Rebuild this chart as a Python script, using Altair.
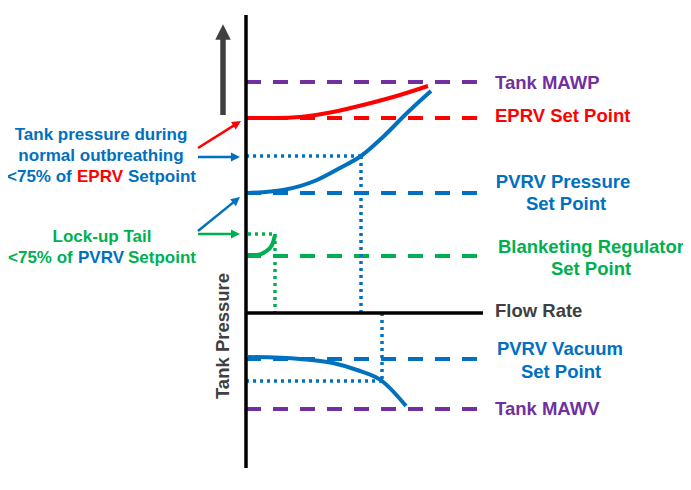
import math
import altair as alt
import pandas as pd

# Diagram units: flow = horizontal distance from the pressure axis, pressure = height above the flow-rate line
PURPLE, RED, BLUE, GREEN, GRAY = "#7030A0", "#FF0000", "#0070C0", "#00B050", "#404040"

setpoint_values = [231, 195, 120, 57, -46, -96]
setpoint_colors = [PURPLE, RED, BLUE, GREEN, BLUE, PURPLE]
line_end = 237

eprv_flow = [2, 30, 54, 87, 121, 154, 182]
eprv_pressure = [195, 195, 196, 201, 209, 218, 227]
pvrv_flow = [2, 37, 71, 94, 115, 137, 161, 185]
pvrv_pressure = [120, 123, 133, 145, 157, 176, 200, 222]
vac_flow = [2, 54, 87, 111, 136, 160]
vac_pressure = [-44, -46, -50, -57, -68, -93]
tail_flow = [2, 11, 19, 26, 29]
tail_pressure = [58, 58, 61, 68, 78]

# dotted guides: x1, y1, x2, y2, colour
guides = [
    (0, 157, 115, 157, BLUE), (115, 157, 115, 0, BLUE),
    (0, -68, 136, -68, BLUE), (136, 0, 136, -68, BLUE),
    (2, 79, 29, 79, GREEN), (29, 79, 29, 0, GREEN),
]
# pointer arrows: x1, y1, x2(tip), y2(tip), colour
arrows = [
    (-48, 165, -5, 192, RED),
    (-48, 156, -6, 156, BLUE),
    (-48, 82, -6, 116, BLUE),
    (-48, 79, -6, 79, GREEN),
]

right_left_labels = ["Tank MAWP", "EPRV Set Point", "Flow Rate", "Tank MAWV"]
right_left_y = [230, 197, 2, -96]
right_left_colors = [PURPLE, RED, GRAY, PURPLE]

right_center_labels = ["PVRV Pressure", "Set Point", "Blanketing Regulator", "Set Point", "PVRV Vacuum", "Set Point"]
right_center_x = [317, 320, 345, 345, 314, 315]
right_center_y = [131, 109, 66, 44, -36, -59]
right_center_colors = [BLUE, BLUE, GREEN, GREEN, BLUE, BLUE]

left_center_labels = ["Tank pressure during", "normal outbreathing", "Lock-up Tail"]
left_center_x = [-145, -145, -144]
left_center_y = [178, 157, 76]
left_center_colors = [BLUE, BLUE, GREEN]

left_seg_labels = ["<75% of", "EPRV", "Setpoint", "<75% of", "PVRV", "Setpoint"]
left_seg_x = [-239, -169, -118, -238, -168, -118]
left_seg_y = [136, 136, 136, 55, 55, 55]
left_seg_colors = [BLUE, RED, BLUE, GREEN, BLUE, GREEN]

FONT = "Liberation Sans"
xs = alt.Scale(domain=[-238, 437], nice=False, zero=False)
ys = alt.Scale(domain=[-169, 305], nice=False, zero=False)


def X(f):
    return alt.X(f, type="quantitative", scale=xs, axis=None)


def Y(f):
    return alt.Y(f, type="quantitative", scale=ys, axis=None)


sp = pd.DataFrame({"y": setpoint_values, "c": setpoint_colors, "x1": 0, "x2": line_end})
setlines = alt.Chart(sp).mark_rule(strokeWidth=4, strokeDash=[15, 12]).encode(
    x=X("x1"), x2="x2", y=Y("y"), color=alt.Color("c:N", scale=None))

gd = pd.DataFrame(guides, columns=["x1", "y1", "x2", "y2", "c"])
guide_layer = alt.Chart(gd).mark_rule(strokeWidth=3.5, strokeDash=[3, 4]).encode(
    x=X("x1"), x2="x2", y=Y("y1"), y2="y2", color=alt.Color("c:N", scale=None))

rows = []
for name, fx, fy, col in [("eprv", eprv_flow, eprv_pressure, RED), ("pvrv", pvrv_flow, pvrv_pressure, BLUE),
                          ("vac", vac_flow, vac_pressure, BLUE), ("tail", tail_flow, tail_pressure, GREEN)]:
    for i, (a, b) in enumerate(zip(fx, fy)):
        rows.append({"s": name, "x": a, "y": b, "c": col, "o": i})
curves = alt.Chart(pd.DataFrame(rows)).mark_line(strokeWidth=4, interpolate="monotone").encode(
    x=X("x"), y=Y("y"), detail="s:N", order="o:Q", color=alt.Color("c:N", scale=None))

flow_line = alt.Chart(pd.DataFrame({"x1": [0], "x2": [line_end], "y": [0]})).mark_rule(
    strokeWidth=3.5, color="black").encode(x=X("x1"), x2="x2", y=Y("y"))
axis_line = alt.Chart(pd.DataFrame({"x": [0], "y1": [-155], "y2": [298]})).mark_rule(
    strokeWidth=3.5, color="black").encode(x=X("x"), y=Y("y1"), y2="y2")

up_shaft = alt.Chart(pd.DataFrame({"x": [-23], "y1": [198], "y2": [276]})).mark_rule(
    strokeWidth=5.5, color=GRAY).encode(x=X("x"), y=Y("y1"), y2="y2")
TRI = "M0,-1L-1,1L1,1Z"
up_head = alt.Chart(pd.DataFrame({"x": [-23], "y": [281]})).mark_point(
    shape=TRI, size=240, filled=True, opacity=1, color=GRAY, strokeWidth=0).encode(x=X("x"), y=Y("y"))

ar = pd.DataFrame(arrows, columns=["x1", "y1", "x2", "y2", "c"])
L = 9.0
hx, hy, ang, lx, ly = [], [], [], [], []
for _, r in ar.iterrows():
    dx, dy = r.x2 - r.x1, r.y2 - r.y1
    n = math.hypot(dx, dy)
    ux, uy = dx / n, dy / n
    hx.append(r.x2 - ux * L / 2)
    hy.append(r.y2 - uy * L / 2)
    lx.append(r.x2 - ux * L * 0.6)
    ly.append(r.y2 - uy * L * 0.6)
    ang.append(math.degrees(math.atan2(dx, dy)) % 360)
ar["hx"], ar["hy"], ar["ang"], ar["lx"], ar["ly"] = hx, hy, ang, lx, ly
arrow_lines = alt.Chart(ar).mark_rule(strokeWidth=2.5).encode(
    x=X("x1"), x2="lx", y=Y("y1"), y2="ly", color=alt.Color("c:N", scale=None))
arrow_heads = alt.Chart(ar).mark_point(shape=TRI, size=L * L, filled=True, opacity=1, strokeWidth=0).encode(
    x=X("hx"), y=Y("hy"), angle=alt.Angle("ang:Q", scale=None), color=alt.Color("c:N", scale=None))


def text_layer(labels, x, y, colors, align, size):
    df = pd.DataFrame({"t": labels, "x": x, "y": y, "c": colors})
    return alt.Chart(df).mark_text(align=align, baseline="middle", font=FONT, fontWeight="bold",
                                   fontSize=size).encode(
        x=X("x"), y=Y("y"), text="t:N", color=alt.Color("c:N", scale=None))


t1 = text_layer(right_left_labels, [249] * len(right_left_labels), right_left_y, right_left_colors, "left", 18.5)
t2 = text_layer(right_center_labels, right_center_x, right_center_y, right_center_colors, "center", 18.5)
t3 = text_layer(left_center_labels, left_center_x, left_center_y, left_center_colors, "center", 17)
t4 = text_layer(left_seg_labels, left_seg_x, left_seg_y, left_seg_colors, "left", 17)
title = alt.Chart(pd.DataFrame({"t": ["Tank Pressure"], "x": [-23], "y": [-23]})).mark_text(
    angle=270, align="center", baseline="middle", font=FONT, fontWeight="bold", fontSize=18.5,
    color=GRAY).encode(x=X("x"), y=Y("y"), text="t:N")

chart = alt.layer(
    setlines, guide_layer, curves, flow_line, axis_line, up_shaft, up_head,
    arrow_lines, arrow_heads, t1, t2, t3, t4, title
).properties(
    width=675, height=474, padding=0, autosize=alt.AutoSizeParams(type="none"), background="white"
).configure_view(stroke=None)

chart.save("out.html", embed_options={"renderer": "svg", "actions": False})
